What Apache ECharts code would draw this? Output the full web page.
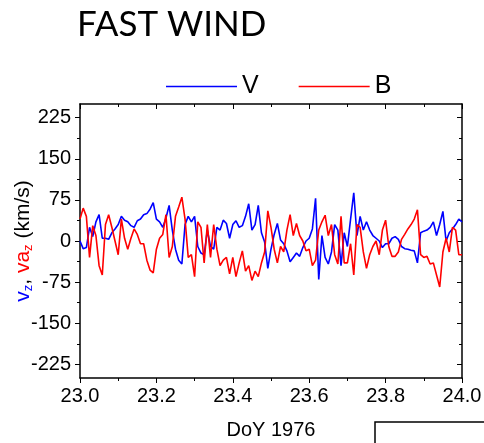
<!DOCTYPE html>
<html><head><meta charset="utf-8">
<script src="https://cdn.jsdelivr.net/npm/echarts@6/dist/echarts.min.js"></script>
<style>html,body{margin:0;padding:0;background:#fff}#c{width:484px;height:443px}</style>
</head><body><div id="c"></div>
<script>
const chartTitle = 'FAST WIND';
const seriesNames = ['V', 'B'];
const xAxisTitle = 'DoY 1976';
const tStart = 23.0;
const tStep = 1 / 120;
const vValues = [0,-14,-12,25,8,35,48,5,5,3,15,22,30,45,38,35,28,25,37,40,48,50,58,70,40,35,25,42,65,20,-15,-35,-42,30,45,35,45,-10,-22,-25,20,-10,-15,25,20,38,32,5,30,37,25,28,45,68,20,30,65,15,-2,-50,-15,12,32,2,-5,-18,-38,-30,-22,-28,-12,0,5,22,78,-70,10,-30,-42,-20,30,20,-45,15,-10,40,88,10,45,20,35,20,10,5,0,-12,-5,-5,5,8,3,-10,-14,-15,-17,-18,-40,15,18,20,25,35,10,30,54,0,15,22,30,40,35];
const bValues = [40,60,45,-30,28,10,-45,-62,30,48,25,0,-25,40,5,-15,5,22,12,-5,-5,-35,-53,-58,-15,5,12,48,-30,-10,45,62,80,40,-30,-25,-65,35,25,-40,30,-30,30,-15,-45,-35,-30,-60,-30,-65,-40,-18,-55,-45,-72,-55,-65,-40,-20,55,25,-15,-40,-10,-20,20,48,10,32,10,0,-18,-15,-45,-35,20,35,47,10,30,-25,-42,45,-40,-40,-5,-62,30,25,-20,-50,-25,-10,0,-25,20,38,-10,-28,-28,-20,3,12,22,30,40,57,-25,-30,-28,-42,-40,-62,-84,-20,5,-20,25,20,-25,-25];
const xRange = [23.0, 24.0];
const yRange = [-250, 250];
const yTickValues = [-225, -150, -75, 0, 75, 150, 225];
const yMinorValues = [-187.5, -112.5, -37.5, 37.5, 112.5, 187.5];

const toPairs = arr => arr.map((v, i) => [tStart + i * tStep, v]);
const font = 'Liberation Sans, Arial, sans-serif';
const axisLine = { show: true, onZero: false, lineStyle: { color: '#000', width: 1.5 } };

const chart = echarts.init(document.getElementById('c'), null, { renderer: 'canvas' });
chart.setOption({
  animation: false,
  backgroundColor: '#fff',
  title: {
    text: chartTitle, left: 72, top: 2,
    textStyle: { fontFamily: 'Lato, sans-serif', fontSize: 35, fontWeight: 'normal', color: '#000' }
  },
  legend: {
    data: [{ name: seriesNames[0], icon: 'rect' }, { name: seriesNames[1], icon: 'rect' }],
    left: 161, top: 69, itemWidth: 71, itemHeight: 1.6, itemGap: 40,
    textStyle: { fontFamily: font, fontSize: 25, color: '#000' }
  },
  grid: { left: 80, top: 104, right: 22, bottom: 65, outerBoundsMode: 'none', containLabel: false },
  xAxis: [
    {
      type: 'value', min: xRange[0], max: xRange[1], interval: 0.2, position: 'bottom',
      name: xAxisTitle, nameLocation: 'middle', nameGap: 42, nameMoveOverlap: false,
      nameTextStyle: { fontFamily: font, fontSize: 20, color: '#000' },
      axisLine, splitLine: { show: false },
      axisTick: { show: true, length: 5, lineStyle: { color: '#000', width: 1 } },
      minorTick: { show: true, splitNumber: 2, length: 3, lineStyle: { color: '#000', width: 1 } },
      axisLabel: { fontFamily: font, fontSize: 20, color: '#000', margin: 8, formatter: v => v.toFixed(1) }
    },
    {
      type: 'value', min: xRange[0], max: xRange[1], interval: 0.2, position: 'top',
      axisLine, splitLine: { show: false },
      axisTick: { show: true, inside: true, length: 5, lineStyle: { color: '#000', width: 1 } },
      minorTick: { show: true, splitNumber: 2, length: 3, lineStyle: { color: '#000', width: 1 } },
      axisLabel: { show: false }
    }
  ],
  yAxis: [
    {
      type: 'value', min: yRange[0], max: yRange[1], position: 'left',
      name: '{b|v}{bs|z}{k|, }{r|va}{rs|z}{k| (km/s)}', nameLocation: 'middle', nameGap: 45, nameMoveOverlap: false,
      nameTextStyle: {
        fontFamily: font, fontSize: 20, color: '#000',
        rich: {
          b: { color: '#0000ff', fontFamily: font, fontSize: 21, lineHeight: 24 },
          bs: { color: '#0000ff', fontFamily: font, fontSize: 13, lineHeight: 12, verticalAlign: 'bottom' },
          r: { color: '#ff0000', fontFamily: font, fontSize: 21, lineHeight: 24 },
          rs: { color: '#ff0000', fontFamily: font, fontSize: 13, lineHeight: 12, verticalAlign: 'bottom' },
          k: { color: '#000', fontFamily: font, fontSize: 21, lineHeight: 24 }
        }
      },
      axisLine, splitLine: { show: false },
      axisTick: { show: true, length: 5, customValues: yTickValues, lineStyle: { color: '#000', width: 1 } },
      axisLabel: { fontFamily: font, fontSize: 20, color: '#000', margin: 9, customValues: yTickValues }
    },
    {
      type: 'value', min: yRange[0], max: yRange[1], position: 'left',
      axisLine: { show: false }, splitLine: { show: false }, axisLabel: { show: false },
      axisTick: { show: true, length: 3, customValues: yMinorValues, lineStyle: { color: '#000', width: 1 } }
    },
    {
      type: 'value', min: yRange[0], max: yRange[1], position: 'right',
      axisLine, splitLine: { show: false }, axisLabel: { show: false },
      axisTick: { show: true, inside: true, length: 5, customValues: yTickValues, lineStyle: { color: '#000', width: 1 } }
    },
    {
      type: 'value', min: yRange[0], max: yRange[1], position: 'right',
      axisLine: { show: false }, splitLine: { show: false }, axisLabel: { show: false },
      axisTick: { show: true, inside: true, length: 3, customValues: yMinorValues, lineStyle: { color: '#000', width: 1 } }
    }
  ],
  series: [
    {
      name: seriesNames[0], type: 'line', xAxisIndex: 0, yAxisIndex: 0, symbol: 'none',
      color: '#0000ff', lineStyle: { color: '#0000ff', width: 1.6 }, data: toPairs(vValues)
    },
    {
      name: seriesNames[1], type: 'line', xAxisIndex: 0, yAxisIndex: 0, symbol: 'none',
      color: '#ff0000', lineStyle: { color: '#ff0000', width: 1.6 }, data: toPairs(bValues)
    }
  ],
  graphic: [
    { type: 'rect', shape: { x: 375, y: 422, width: 200, height: 100 },
      style: { fill: 'none', stroke: '#000', lineWidth: 1.5 } }
  ]
});
</script></body></html>
